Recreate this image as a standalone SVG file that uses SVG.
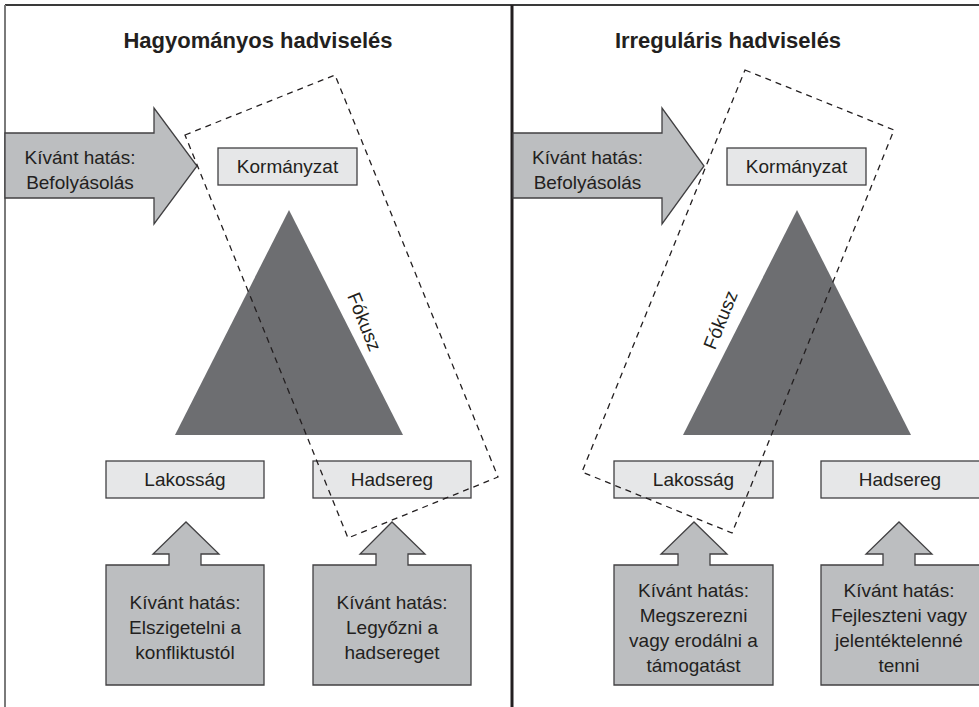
<svg xmlns="http://www.w3.org/2000/svg" width="979" height="707" viewBox="0 0 979 707">
<style>
text{font-family:"Liberation Sans",Arial,sans-serif;fill:#231f20;}
.title{font-size:22px;font-weight:bold;text-anchor:middle;}
.lbl{font-size:19px;text-anchor:middle;}
.box{fill:#e6e7e8;stroke:#414042;stroke-width:1.3;}
.arr{fill:#bcbec0;stroke:#414042;stroke-width:1.3;}
.tri{fill:#6d6e71;}
.focus{fill:none;stroke:#231f20;stroke-width:1.3;stroke-dasharray:6 5;}
</style>
<rect x="0" y="0" width="979" height="707" fill="#ffffff"/>
<g id="frame">
<line x1="5" y1="5" x2="979" y2="5" stroke="#3a3a3a" stroke-width="2"/>
<line x1="5" y1="5" x2="5" y2="707" stroke="#7a7a7a" stroke-width="2"/>
<line x1="512" y1="5" x2="512" y2="707" stroke="#231f20" stroke-width="3"/>
</g>
<g id="title-left"><text class="title" x="258" y="48">Hagyományos hadviselés</text></g>
<g id="title-right"><text class="title" x="728" y="48">Irreguláris hadviselés</text></g>

<g id="tri-left"><polygon class="tri" points="289,210 175,435 403,435"/></g>
<g id="tri-right"><polygon class="tri" points="797,210 683,435 911,435"/></g>

<g id="korm-left"><rect class="box" x="218" y="148" width="139" height="37"/><text class="lbl" x="287.5" y="173">Kormányzat</text></g>
<g id="lak-left"><rect class="box" x="106" y="461" width="158" height="37"/><text class="lbl" x="185" y="486">Lakosság</text></g>
<g id="had-left"><rect class="box" x="313" y="461" width="158" height="37"/><text class="lbl" x="392" y="486">Hadsereg</text></g>
<g id="korm-right"><rect class="box" x="727" y="148" width="139" height="37"/><text class="lbl" x="796.5" y="173">Kormányzat</text></g>
<g id="lak-right"><rect class="box" x="614" y="461" width="159" height="37"/><text class="lbl" x="693.5" y="486">Lakosság</text></g>
<g id="had-right"><rect class="box" x="821" y="461" width="170" height="37"/><text class="lbl" x="900" y="486">Hadsereg</text></g>

<g id="connectors">
<g id="arrow-left-top"><path class="arr" d="M5,133 H154 V108 L197,166 L154,224 V198 H5 Z"/><text class="lbl" x="80" y="164">Kívánt hatás:</text><text class="lbl" x="80" y="189">Befolyásolás</text></g>
<g id="arrow-right-top"><path class="arr" d="M513,133 H662 V108 L704,166 L662,224 V198 H513 Z"/><text class="lbl" x="587.5" y="164">Kívánt hatás:</text><text class="lbl" x="587.5" y="189">Befolyásolás</text></g>
<g id="arrow-lak-left"><path class="arr" d="M106,565 H169 V554 H153 L186,522 L219,554 H201 V565 H264 V685 H106 Z"/><text class="lbl" x="185" y="609">Kívánt hatás:</text><text class="lbl" x="185" y="634">Elszigetelni a</text><text class="lbl" x="185" y="659">konfliktustól</text></g>
<g id="arrow-had-left"><path class="arr" d="M313,565 H376 V554 H360 L392,522 L425,554 H408 V565 H471 V685 H313 Z"/><text class="lbl" x="392" y="609">Kívánt hatás:</text><text class="lbl" x="392" y="634">Legyőzni a</text><text class="lbl" x="392" y="659">hadsereget</text></g>
<g id="arrow-lak-right"><path class="arr" d="M614,565 H678 V554 H661 L694,522 L727,554 H710 V565 H773 V685 H614 Z"/><text class="lbl" x="693.5" y="597">Kívánt hatás:</text><text class="lbl" x="693.5" y="622">Megszerezni</text><text class="lbl" x="693.5" y="647">vagy erodálni a</text><text class="lbl" x="693.5" y="672">támogatást</text></g>
<g id="arrow-had-right"><path class="arr" d="M821,565 H883 V554 H866 L899,522 L932,554 H915 V565 H991 V685 H821 Z"/><text class="lbl" x="899" y="597">Kívánt hatás:</text><text class="lbl" x="899" y="622">Fejleszteni vagy</text><text class="lbl" x="899" y="647">jelentéktelenné</text><text class="lbl" x="899" y="672">tenni</text></g>
</g>

<g id="focus-left"><polygon class="focus" points="185,135 335,75 498,477 348,538"/><text class="lbl" transform="translate(364,322) rotate(68)" y="6">Fókusz</text></g>
<g id="focus-right"><polygon class="focus" points="745,70 894,130 732,533 582,472"/><text class="lbl" transform="translate(721,320) rotate(-68)" y="6">Fókusz</text></g>
</svg>
